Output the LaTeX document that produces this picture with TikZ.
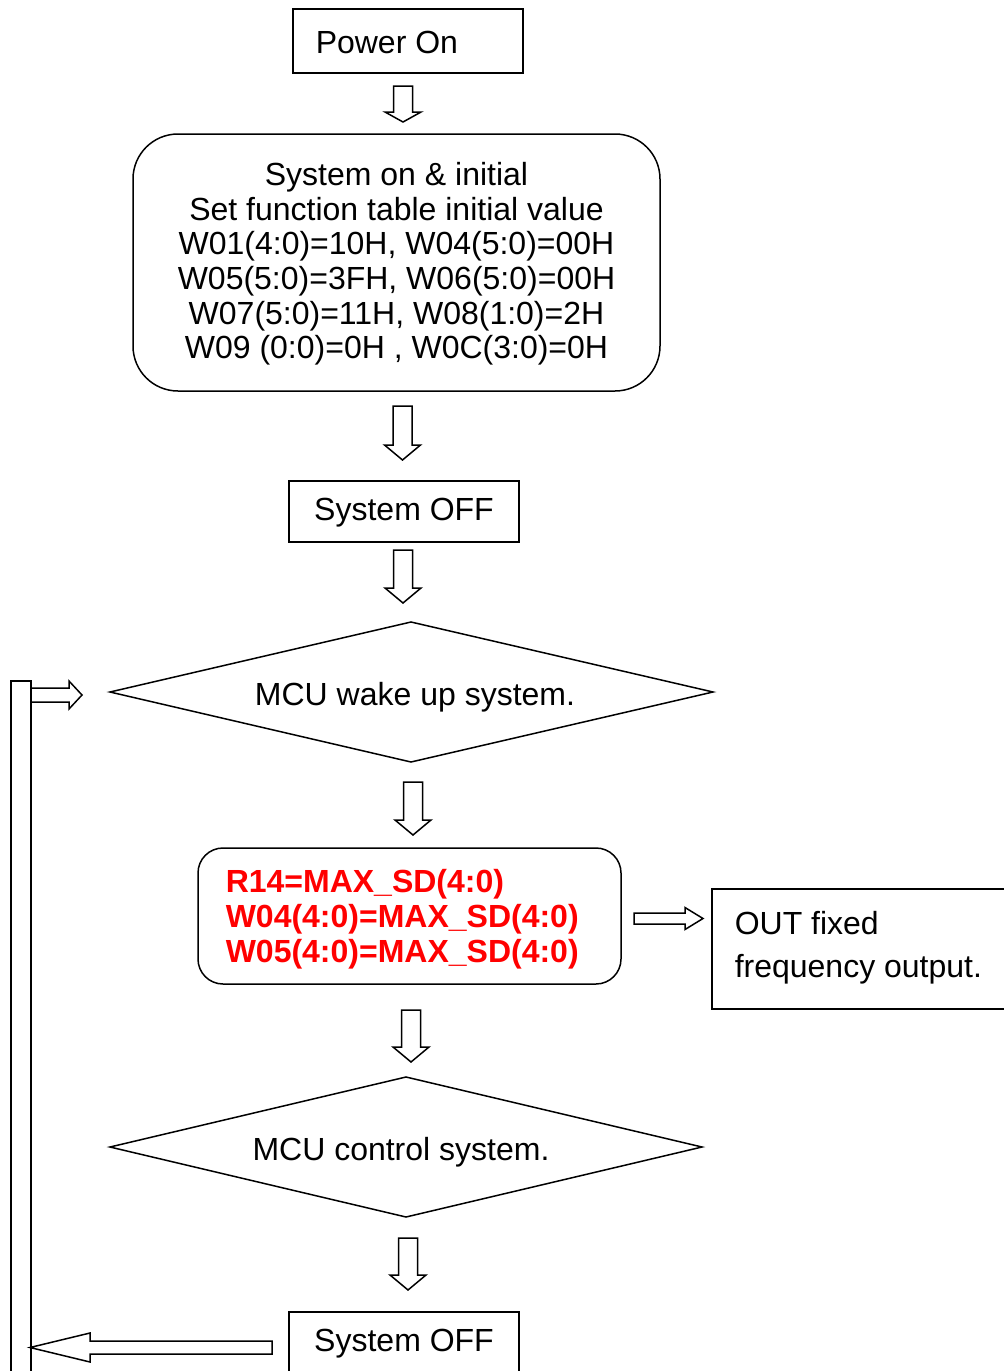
\documentclass[tikz,border=0pt]{standalone}
\usepackage{fontspec}
\setmainfont{Liberation Sans}
\newcommand\harrowdown[4]{% x, ytop, ytip, headlen
  \draw[hollow] (#1-9.5,#2) -- (#1+9.5,#2) -- (#1+9.5,#3-#4) -- (#1+18,#3-#4) -- (#1,#3) -- (#1-18,#3-#4) -- (#1-9.5,#3-#4) -- cycle;}
\newcommand\harrowh[6]{% xstart, xheadbase, xtip, ycenter, shafthalf, headhalf
  \draw[hollow] (#1,#4-#5) -- (#2,#4-#5) -- (#2,#4-#6) -- (#3,#4) -- (#2,#4+#6) -- (#2,#4+#5) -- (#1,#4+#5) -- cycle;}
\begin{document}
\begin{tikzpicture}[x=1pt,y=-1pt,line width=1.5pt,
  box/.style={draw,line width=1.5pt,inner sep=0pt},
  big/.style={font=\fontsize{32}{34.6}\selectfont},
  red/.style={font=\fontsize{32}{35}\selectfont\bfseries,text=red},
  hollow/.style={draw,fill=white,line width=1.5pt,line join=miter},
  txt/.style={inner sep=0pt}]
\useasboundingbox (0,0) rectangle (1004,1371);
\clip (0,0) rectangle (1004,1371);
% Power On
\node[box,minimum width=230pt,minimum height=64pt] (power) at (408,41) {};
\node[txt,big,anchor=west] (powert) at (315,42) {Power On};
% init
\node[box,rounded corners=45pt,minimum width=527pt,minimum height=257pt] (init) at (396.5,262.5) {};
\node[txt,big,align=center] (initt) at (396.5,264) 
 {System on \& initial\\Set function table initial value\\W01(4:0)=10H, W04(5:0)=00H\\W05(5:0)=3FH, W06(5:0)=00H\\W07(5:0)=11H, W08(1:0)=2H\\W09 (0:0)=0H , W0C(3:0)=0H};
% System OFF 1
\node[box,minimum width=230pt,minimum height=61pt] (off1) at (404,511.5) {};
\node[txt,big] (off1t) at (404,513) {System OFF};
% diamond 1
\draw (110,692) coordinate (d1w) -- (411,622) coordinate (d1n) -- (713,692) coordinate (d1e) -- (411,762) coordinate (d1s) -- cycle;
\node[txt,big] (wake) at (415,697) {MCU wake up system.};
% red box
\node[box,rounded corners=25pt,minimum width=423pt,minimum height=136pt] (maxsd) at (409.5,916) {};
\node[txt,red,anchor=west,align=left] (maxsdt) at (225,919) {R14=MAX\_SD(4:0)\\W04(4:0)=MAX\_SD(4:0)\\W05(4:0)=MAX\_SD(4:0)};
% OUT box
\node[box,minimum width=300pt,minimum height=120pt] (out) at (862,949) {};
\node[txt,font=\fontsize{32}{43}\selectfont,anchor=west,align=left] (outt) at (734,948) {OUT fixed\\frequency output.};
% diamond 2
\draw (110,1147) coordinate (d2w) -- (406,1077) coordinate (d2n) -- (702,1147) coordinate (d2e) -- (406,1217) coordinate (d2s) -- cycle;
\node[txt,big] (ctrl) at (401,1152) {MCU control system.};
% System OFF 2
\node[box,minimum width=230pt,minimum height=68pt] (off2) at (404,1346) {};
\node[txt,big] (off2t) at (404,1344) {System OFF};
% feedback bar
\draw (11,1390) rectangle (31,681);
% block arrows
\harrowdown{403}{86}{122}{10}
\harrowdown{402.5}{406}{460}{15}
\harrowdown{403}{550}{603}{15}
\harrowdown{413}{782}{835}{15}
\harrowdown{411}{1010}{1062}{15}
\harrowdown{408}{1238}{1290}{15}
\harrowh{634}{685}{703}{918.5}{5.5}{11}
\harrowh{31}{69}{82}{695}{7}{14}
\harrowh{272}{90}{30}{1347.5}{6.5}{14.5}
\end{tikzpicture}
\end{document}
